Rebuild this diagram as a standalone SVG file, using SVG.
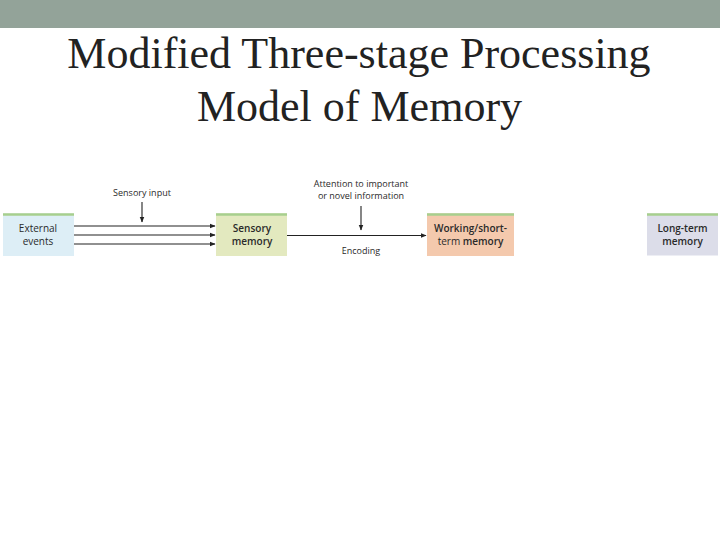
<svg xmlns="http://www.w3.org/2000/svg" width="720" height="540" viewBox="0 0 720 540">
<style>
.title{font-family:"Liberation Serif","Times New Roman",serif;font-size:44px;fill:#222;text-anchor:middle}
.lbl{font-family:"Open Sans","Liberation Sans",Arial,sans-serif;font-size:9px;fill:#2a2a2a;text-anchor:middle}
.box{font-family:"Open Sans","Liberation Sans",Arial,sans-serif;font-size:10px;fill:#2a2a2a;text-anchor:middle}
.b{font-weight:600}
.top{stroke:#a7cf8e;stroke-width:2.5}
.ln{stroke:#222;stroke-width:1.1;fill:none}
</style>
<defs>
<marker id="ah" viewBox="0 0 10 10" refX="9" refY="5" markerWidth="6" markerHeight="6" markerUnits="userSpaceOnUse" orient="auto">
<path d="M0,1 L10,5 L0,9 Z" fill="#222"/>
</marker>
</defs>
<rect width="720" height="540" fill="#fff"/>
<rect x="0" y="0" width="720" height="28" fill="#93a399"/>
<text class="title" x="359" y="68">Modified Three-stage Processing</text>
<text class="title" x="359.5" y="121">Model of Memory</text>

<g id="external-events">
<rect x="3" y="213.5" width="71" height="42.5" fill="#ddeef6"/>
<line class="top" x1="3" y1="214.5" x2="74" y2="214.5"/>
<text class="box" x="38" y="232">External</text>
<text class="box" x="38" y="245">events</text>
</g>
<g id="sensory-memory">
<rect x="216" y="213.5" width="71" height="42.5" fill="#e3e9bf"/>
<line class="top" x1="216" y1="214.5" x2="287" y2="214.5"/>
<text class="box b" x="252" y="232">Sensory</text>
<text class="box b" x="252" y="245">memory</text>
</g>
<g id="working-memory">
<rect x="427" y="213.5" width="87" height="42.5" fill="#f4c9ad"/>
<line class="top" x1="427" y1="214.5" x2="514" y2="214.5"/>
<text class="box b" x="470.5" y="232">Working/short-</text>
<text class="box" x="470.5" y="245">term <tspan class="b">memory</tspan></text>
</g>
<g id="long-term-memory">
<rect x="647" y="213.5" width="71" height="42" fill="#dcdde9"/>
<line class="top" x1="647" y1="214.5" x2="718" y2="214.5"/>
<text class="box b" x="682.5" y="232">Long-term</text>
<text class="box b" x="682.5" y="245">memory</text>
</g>

<g id="labels">
<text class="lbl" x="142" y="196">Sensory input</text>
<text class="lbl" x="361" y="187">Attention to important</text>
<text class="lbl" x="361" y="199">or novel information</text>
<text class="lbl" x="361" y="254">Encoding</text>
</g>

<g id="connectors">
<line class="ln" x1="74" y1="226" x2="215" y2="226" marker-end="url(#ah)"/>
<line class="ln" x1="74" y1="235" x2="215" y2="235" marker-end="url(#ah)"/>
<line class="ln" x1="74" y1="244" x2="215" y2="244" marker-end="url(#ah)"/>
<line class="ln" x1="142" y1="202" x2="142" y2="222" marker-end="url(#ah)"/>
<line class="ln" x1="287" y1="235.5" x2="426" y2="235.5" marker-end="url(#ah)"/>
<line class="ln" x1="361" y1="206" x2="361" y2="230" marker-end="url(#ah)"/>
</g>
</svg>
